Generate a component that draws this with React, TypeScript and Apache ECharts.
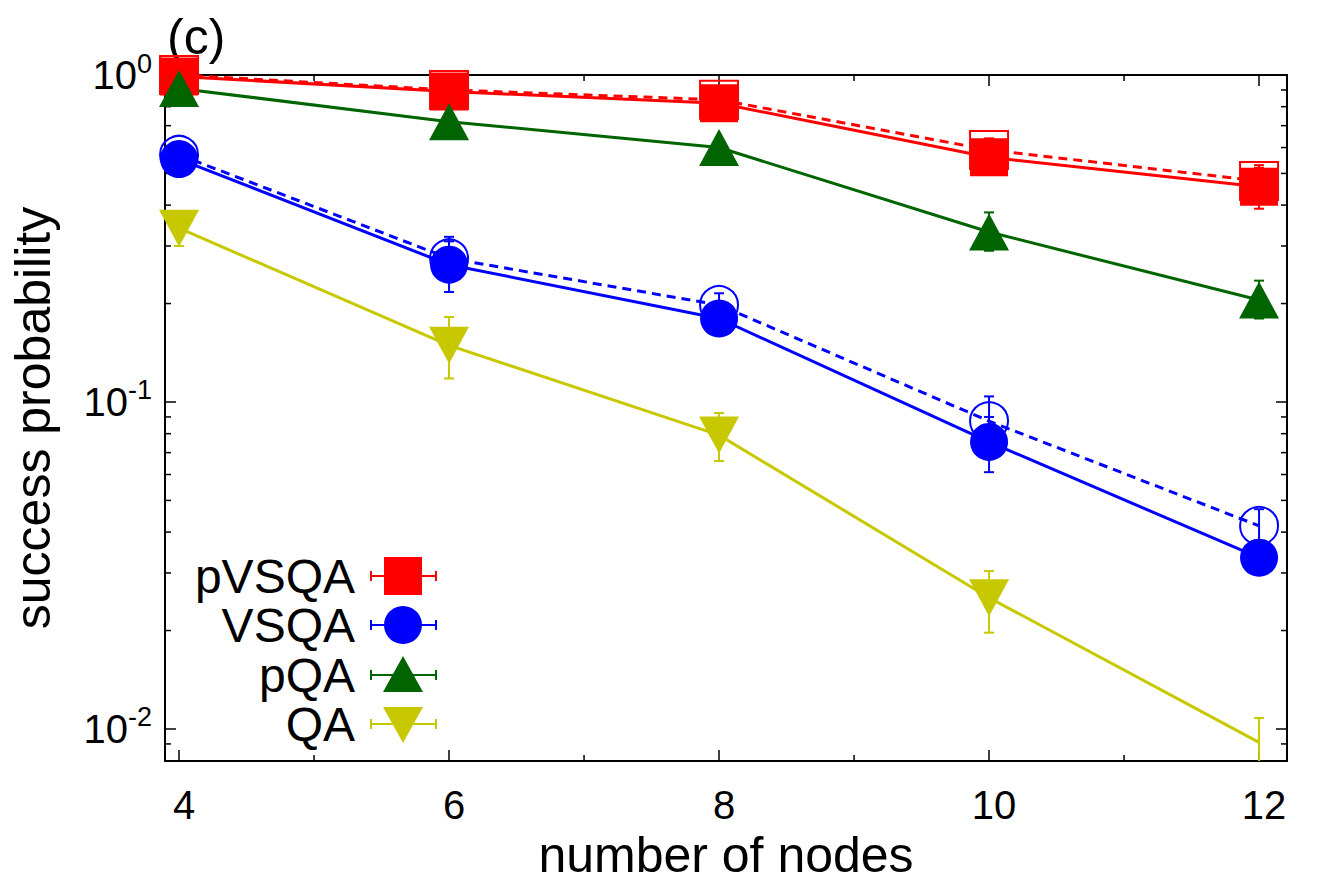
import React, { useEffect, useRef } from 'react';
import * as echarts from 'echarts';

const FONT = '"Liberation Sans", Arial, Helvetica, sans-serif';

// x positions (number of nodes)
const nodes = [4, 6, 8, 10, 12];

// pVSQA (filled squares, solid line)
const pvsqa = [0.99, 0.89, 0.82, 0.56, 0.455];
const pvsqaLow = [0.96, 0.84, 0.77, 0.5, 0.39];
const pvsqaHigh = [1.02, 0.94, 0.87, 0.61, 0.52];

// pVSQA companion (open squares, dashed line)
const pvsqaOpen = [1.0, 0.9, 0.84, 0.59, 0.474];
const pvsqaOpenLow = [0.97, 0.85, 0.79, 0.54, 0.43];
const pvsqaOpenHigh = [1.03, 0.95, 0.89, 0.64, 0.53];

// VSQA (filled circles, solid line)
const vsqa = [0.553, 0.263, 0.18, 0.0755, 0.0334];
const vsqaLow = [0.52, 0.217, 0.16, 0.061, 0.03];
const vsqaHigh = [0.59, 0.31, 0.2, 0.09, 0.037];

// VSQA companion (open circles, dashed line)
const vsqaOpen = [0.57, 0.275, 0.198, 0.0874, 0.0418];
const vsqaOpenLow = [0.54, 0.24, 0.18, 0.075, 0.037];
const vsqaOpenHigh = [0.61, 0.32, 0.215, 0.104, 0.047];

// pQA (up triangles)
const pqa = [0.91, 0.72, 0.6, 0.331, 0.205];
const pqaLow = [0.88, 0.69, 0.57, 0.29, 0.18];
const pqaHigh = [0.94, 0.75, 0.63, 0.38, 0.235];

// QA (down triangles)
const qa = [0.34, 0.149, 0.0792, 0.0252, 0.0091];
const qaLow = [0.3, 0.118, 0.066, 0.0197, 0.007];
const qaHigh = [0.38, 0.182, 0.0925, 0.0304, 0.0108];

// axes
const X_MIN = 3.896;
const X_MAX = 12.207;
const Y_MIN = 0.00798;
const Y_MAX = 1;
const xMajorTicks = [4, 6, 8, 10, 12];
const xMinorTicks = [5, 7, 9, 11];
const yMajorTicks = [0.01, 0.1, 1];
const yMinorTicks = [0.009, 0.02, 0.03, 0.04, 0.05, 0.06, 0.07, 0.08, 0.09, 0.2, 0.3, 0.4, 0.5, 0.6, 0.7, 0.8, 0.9];

const RED = '#ff0000';
const BLUE = '#0000ff';
const GREEN = '#006400';
const YELLOW = '#c8c800';

const legendNames = ['pVSQA', 'VSQA', 'pQA', 'QA'];
const legendColors = [RED, BLUE, GREEN, YELLOW];

function errSeries(low: number[], high: number[], color: string) {
  return {
    type: 'custom',
    coordinateSystem: 'cartesian2d',
    clip: true,
    silent: true,
    data: nodes.map((x, i) => [x, low[i], high[i]]),
    encode: { x: 0, y: [1, 2] },
    renderItem: (params: any, api: any) => {
      const x = api.value(0);
      const p1 = api.coord([x, api.value(1)]);
      const p2 = api.coord([x, api.value(2)]);
      const hw = 5;
      const st = { stroke: color, lineWidth: 2, fill: 'none' };
      return {
        type: 'group',
        children: [
          { type: 'line', shape: { x1: p1[0], y1: p1[1], x2: p2[0], y2: p2[1] }, style: st },
          { type: 'line', shape: { x1: p1[0] - hw, y1: p1[1], x2: p1[0] + hw, y2: p1[1] }, style: st },
          { type: 'line', shape: { x1: p2[0] - hw, y1: p2[1], x2: p2[0] + hw, y2: p2[1] }, style: st },
        ],
      };
    },
  };
}

function lineSeries(vals: number[], color: string, symbol: string, size: any, open: boolean, dashed: boolean, rotate = 0, skip: number[] = []) {
  return {
    type: 'line',
    data: nodes.map((x, i) =>
      skip.includes(i) ? { value: [x, vals[i]], symbol: 'none' } : [x, vals[i]]
    ),
    symbol,
    symbolSize: size,
    symbolRotate: rotate,
    showAllSymbol: true,
    clip: false,
    silent: true,
    lineStyle: { color, width: 3, type: dashed ? [9, 6] : 'solid' },
    itemStyle: open
      ? { color: 'rgba(255,255,255,0)', borderColor: color, borderWidth: 2 }
      : { color, borderWidth: 0 },
    emphasis: { disabled: true },
  };
}

function tickSeries() {
  return {
    type: 'custom',
    coordinateSystem: 'cartesian2d',
    silent: true,
    clip: false,
    data: [[X_MIN, Y_MIN]],
    renderItem: (params: any, api: any) => {
      const children: any[] = [];
      const st = { stroke: '#000', lineWidth: 1.5 };
      const len = 6;
      yMinorTicks.forEach((v) => {
        const l = api.coord([X_MIN, v]);
        const r = api.coord([X_MAX, v]);
        children.push({ type: 'line', shape: { x1: l[0], y1: l[1], x2: l[0] + len, y2: l[1] }, style: st });
        children.push({ type: 'line', shape: { x1: r[0], y1: r[1], x2: r[0] - len, y2: r[1] }, style: st });
      });
      xMinorTicks.forEach((v) => {
        const b = api.coord([v, Y_MIN]);
        const t = api.coord([v, Y_MAX]);
        children.push({ type: 'line', shape: { x1: b[0], y1: b[1], x2: b[0], y2: b[1] - len }, style: st });
        children.push({ type: 'line', shape: { x1: t[0], y1: t[1], x2: t[0], y2: t[1] + len }, style: st });
      });
      return { type: 'group', children };
    },
  };
}

function legendGraphics() {
  const els: any[] = [];
  const rowY = [576, 625, 675, 724];
  const cx = 403;
  rowY.forEach((y, i) => {
    const c = legendColors[i];
    els.push({
      type: 'text',
      x: 355,
      y,
      style: { text: legendNames[i], font: `48px ${FONT}`, fill: '#000', textAlign: 'right', textVerticalAlign: 'middle' },
    });
    const st = { stroke: c, lineWidth: 2 };
    els.push({ type: 'line', shape: { x1: 371, y1: y, x2: 436, y2: y }, style: st });
    els.push({ type: 'line', shape: { x1: 371, y1: y - 5, x2: 371, y2: y + 5 }, style: st });
    els.push({ type: 'line', shape: { x1: 436, y1: y - 5, x2: 436, y2: y + 5 }, style: st });
    if (i === 0) {
      els.push({ type: 'rect', shape: { x: cx - 19, y: y - 19, width: 38, height: 38 }, style: { fill: c } });
    } else if (i === 1) {
      els.push({ type: 'circle', shape: { cx, cy: y, r: 19 }, style: { fill: c } });
    } else if (i === 2) {
      els.push({ type: 'polygon', shape: { points: [[cx - 20, y + 17], [cx + 20, y + 17], [cx, y - 19]] }, style: { fill: c } });
    } else {
      els.push({ type: 'polygon', shape: { points: [[cx - 20, y - 17], [cx + 20, y - 17], [cx, y + 19]] }, style: { fill: c } });
    }
  });
  els.push({
    type: 'text',
    x: 167,
    y: 37,
    style: { text: '(c)', font: `50px ${FONT}`, fill: '#000', textAlign: 'left', textVerticalAlign: 'middle' },
  });
  return els;
}

export default function App() {
  const ref = useRef<HTMLDivElement>(null);
  useEffect(() => {
    const chart = echarts.init(ref.current!, null, { renderer: 'svg' });
    const axisLine = { show: true, onZero: false, lineStyle: { color: '#000', width: 2 } };
    const majorTick = { show: true, inside: true, length: 11, lineStyle: { color: '#000', width: 1.5 } };
    const option: any = {
      animation: false,
      backgroundColor: '#fff',
      grid: { left: 165, top: 75, width: 1122, height: 686, containLabel: false },
      xAxis: [
        {
          type: 'value',
          min: X_MIN,
          max: X_MAX,
          position: 'bottom',
          axisLine,
          axisTick: { ...majorTick, customValues: xMajorTicks },
          axisLabel: {
            customValues: xMajorTicks,
            fontSize: 40,
            fontFamily: FONT,
            color: '#000',
            margin: 24,
            padding: [0, 0, 0, 10],
          },
          splitLine: { show: false },
          name: 'number of nodes',
          nameLocation: 'middle',
          nameGap: 61,
          nameTextStyle: { fontSize: 50, fontFamily: FONT, color: '#000' },
        },
        {
          type: 'value',
          min: X_MIN,
          max: X_MAX,
          position: 'top',
          axisLine,
          axisTick: { ...majorTick, customValues: xMajorTicks },
          axisLabel: { show: false },
          splitLine: { show: false },
        },
      ],
      yAxis: [
        {
          type: 'log',
          logBase: 10,
          min: Y_MIN,
          max: Y_MAX,
          position: 'left',
          axisLine,
          axisTick: { ...majorTick, customValues: yMajorTicks },
          axisLabel: {
            customValues: yMajorTicks,
            margin: 13,
            formatter: (v: number) => `{b|10}{s|${Math.round(Math.log10(v))}}`,
            rich: {
              b: { fontSize: 40, fontFamily: FONT, color: '#000', verticalAlign: 'middle', lineHeight: 50 },
              s: { fontSize: 27, fontFamily: FONT, color: '#000', verticalAlign: 'top', lineHeight: 20 },
            },
          },
          splitLine: { show: false },
          minorTick: { show: false },
          name: 'success probability',
          nameLocation: 'middle',
          nameGap: 107,
          nameRotate: 90,
          nameTextStyle: { fontSize: 50, fontFamily: FONT, color: '#000' },
        },
        {
          type: 'log',
          logBase: 10,
          min: Y_MIN,
          max: Y_MAX,
          position: 'right',
          axisLine,
          axisTick: { ...majorTick, customValues: yMajorTicks },
          axisLabel: { show: false },
          splitLine: { show: false },
        },
      ],
      graphic: legendGraphics(),
      series: [
        tickSeries(),
        errSeries(pvsqaOpenLow, pvsqaOpenHigh, RED),
        lineSeries(pvsqaOpen, RED, 'rect', 38, true, true),
        errSeries(vsqaOpenLow, vsqaOpenHigh, BLUE),
        lineSeries(vsqaOpen, BLUE, 'circle', 38, true, true),
        errSeries(pvsqaLow, pvsqaHigh, RED),
        lineSeries(pvsqa, RED, 'rect', 38, false, false),
        errSeries(vsqaLow, vsqaHigh, BLUE),
        lineSeries(vsqa, BLUE, 'circle', 38, false, false),
        errSeries(pqaLow, pqaHigh, GREEN),
        lineSeries(pqa, GREEN, 'triangle', [40, 37], false, false),
        errSeries(qaLow, qaHigh, YELLOW),
        lineSeries(qa, YELLOW, 'triangle', [40, 37], false, false, 180, [4]),
      ],
    };
    chart.setOption(option);
    return () => chart.dispose();
  }, []);
  return <div ref={ref} style={{ position: 'absolute', left: 0, top: 0, width: 1329, height: 886 }} />;
}
